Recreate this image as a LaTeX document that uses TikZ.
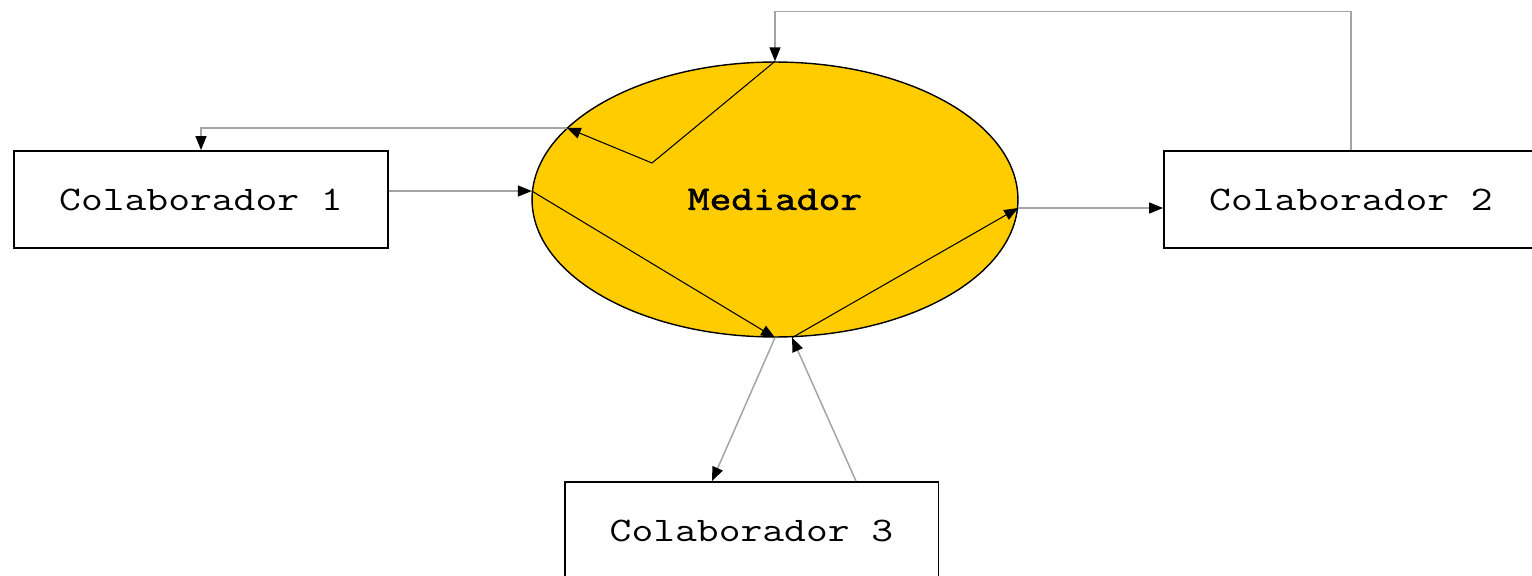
\documentclass[tikz,border=0pt]{standalone}
\usepackage{fontspec}
\setmonofont[FakeStretch=1.23,BoldFont={Latin Modern Mono},BoldFeatures={FakeBold=1.8}]{Latin Modern Mono}
\usetikzlibrary{arrows.meta,shapes.geometric}
\definecolor{medyellow}{RGB}{255,204,0}
\definecolor{linegray}{RGB}{165,165,165}
\newcommand{\labfont}{\ttfamily\fontsize{19.6}{24}\selectfont}
\tikzset{
  colbox/.style={shape=rectangle,draw=black,line width=1.1pt,minimum width=7.48cm,minimum height=1.94cm,inner sep=0pt,font=\labfont},
  tip/.style={-{Triangle[length=0.28cm,width=0.22cm,color=black]}},
  outer/.style={tip,draw=linegray,line width=0.85pt},
  inner/.style={tip,draw=black,line width=0.6pt}
}
\begin{document}
\begin{tikzpicture}[x=0.02cm,y=-0.02cm]
\useasboundingbox[fill=white] (0,0) rectangle (1532,575);
\node[shape=ellipse,draw=black,fill=medyellow,line width=0.8pt,minimum width=9.72cm,minimum height=5.5cm,inner sep=0pt,font=\labfont\bfseries] (M) at (775,199.5) {Mediador};
\node[colbox] (C1) at (201,199.5) {Colaborador 1};
\node[colbox] (C2) at (1351,199.5) {Colaborador 2};
\node[colbox] (C3) at (751.5,530.5) {Colaborador 3};
\coordinate (K) at (652,163);
\path [outer] (C2.north) |- ([yshift=1cm]M.north) -- (M.north);
\path [inner] (M.north) -- (K) -- (M.161);
\path [outer] (M.161) -| (C1.north);
\path [outer] (C1.east |- M.178) -- (M.178);
\path [inner] (M.178) -- (M.south);
\path [outer] (M.south) -- ([xshift=-0.79cm]C3.north);
\path [outer] ([xshift=2.09cm]C3.north) -- ([xshift=0.34cm]M.south);
\path [inner] ([xshift=0.34cm]M.south) -- (M.-2);
\path [outer] (M.-2) -- (C2.west |- M.-2);
\end{tikzpicture}
\end{document}
